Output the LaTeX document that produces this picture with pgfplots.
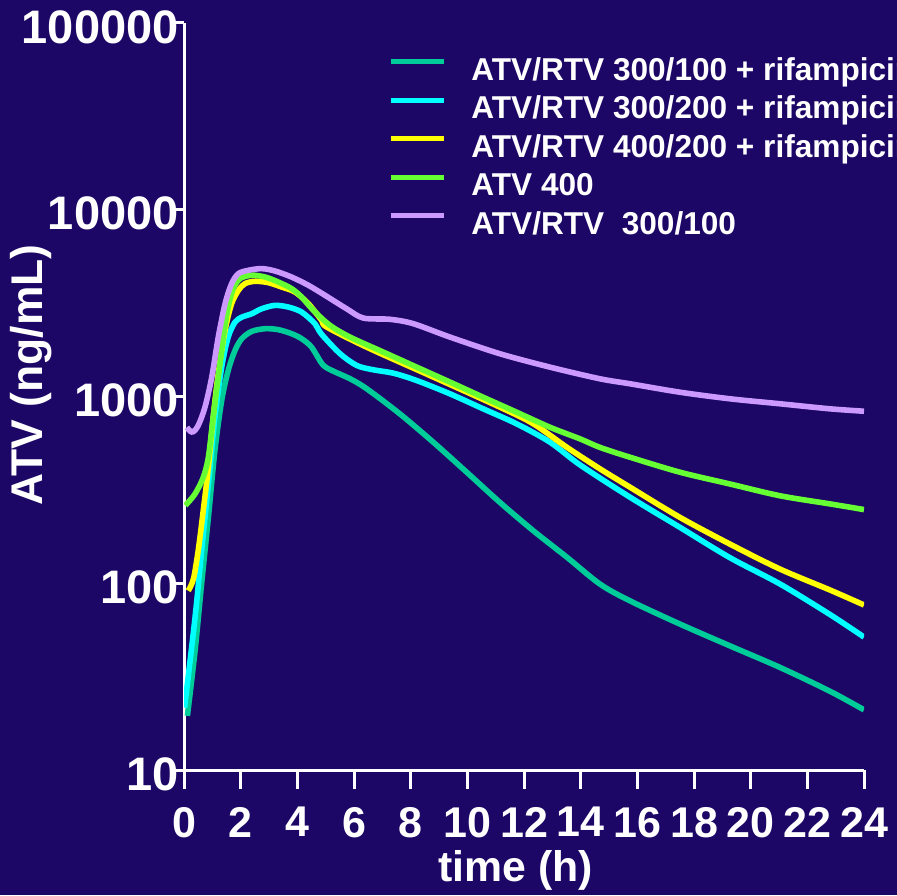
\documentclass[border=0pt]{standalone}
\usepackage{fontspec}
\setmainfont{Liberation Sans}
\usepackage{pgfplots}
\pgfplotsset{compat=1.18}
\definecolor{bg}{RGB}{29,7,102}
\definecolor{cteal}{RGB}{0,204,153}
\definecolor{ccyan}{RGB}{0,255,255}
\definecolor{cyel}{RGB}{255,255,0}
\definecolor{clime}{RGB}{102,255,51}
\definecolor{clav}{RGB}{204,153,255}
\begin{document}
\begin{tikzpicture}
\useasboundingbox (0,0) rectangle (448.5pt,447.5pt);
\clip (0,0) rectangle (448.5pt,447.5pt);
\fill[bg] (0,0) rectangle (448.5pt,447.5pt);
\begin{axis}[
  at={(92pt,62.5pt)}, anchor=south west,
  scale only axis, width=340pt, height=373.5pt,
  xmin=0, xmax=24, ymode=log, ymin=10, ymax=100000,
  axis line style={white, line width=1.5pt},
  tick style={white, line width=1.5pt},
  tick align=outside,
  axis x line*=bottom, axis y line*=left,
  major tick length=5pt,
  xtick={0,2,...,24}, xticklabels={}, xtick style={draw=none},
  ytick={10,100,1000,10000,100000},
  yticklabels={10,100,1000,10000,100000},
  yminorticks=false,
  yticklabel style={font=\fontsize{23.5}{23.5}\selectfont\bfseries, text=white, inner sep=0pt, xshift=2.5pt, yshift=-2pt},
  xlabel={time (h)}, ylabel={ATV (ng/mL)},
  xlabel style={font=\fontsize{21.4}{21.4}\selectfont\bfseries, text=white, at={(axis description cs:0.488,-0.1499)}, anchor=base},
  ylabel style={font=\fontsize{22.2}{22.2}\selectfont\bfseries, text=white, at={(axis description cs:-0.2088,0.529)}, anchor=base},
  every axis plot/.append style={line width=2.8pt, line join=round, smooth, tension=0.5},
  legend image code/.code={\draw[#1, line width=2.5pt] (0pt,3.4pt) -- (26.5pt,3.4pt);},
  legend cell align=left,
  legend style={draw=none, fill=none, text=white, font=\fontsize{15.8}{15.8}\selectfont\bfseries,
    at={(axis description cs:0.300,0.9545)}, anchor=north west, inner sep=0pt,
    row sep=7.9pt, column sep=12.5pt,
    nodes={text height=11.35pt, text depth=0pt, inner sep=0pt}},
]
\addplot[cteal] coordinates {
(0.12,19.5) (0.39,43.5) (0.62,99) (0.86,225) (1.09,513) (1.33,952) (1.56,1378) (1.8,1765)
(2.04,2040) (2.39,2232) (2.86,2307) (3.33,2280) (3.8,2168) (4.15,2040) (4.5,1840) (4.9,1480)
(5.27,1367) (5.86,1245) (6.45,1100) (7.62,807) (8.8,569) (9.98,393) (11.15,271) (12.33,191)
(13.51,138) (14.68,99) (15.74,80.5) (17.51,60.4) (19.27,46.2) (21.04,35.4) (22.8,26.4) (24,21)
};
\addlegendentry{ATV/RTV 300/100 + rifampicin}
\addplot[ccyan] coordinates {
(0.02,21.6) (0.39,65.6) (0.62,149) (0.86,340) (1.09,774) (1.33,1436) (1.56,2080) (1.8,2500)
(2.04,2660) (2.39,2774) (2.74,2950) (3.21,3075) (3.68,3013) (4.15,2833) (4.62,2455) (4.85,2160)
(5.51,1694) (6.1,1466) (6.68,1390) (7.39,1333) (8.21,1218) (9.39,1033) (10.56,859) (11.74,714)
(12.92,569) (13.98,430) (15.74,289) (17.51,199) (19.27,137) (21.04,99) (22.8,68) (24,51.5)
};
\addlegendentry{ATV/RTV 300/200 + rifampicin}
\addplot[cyel] coordinates {
(0.15,91.2) (0.33,105) (0.5,149) (0.68,245) (0.86,418) (1.03,774) (1.21,1325) (1.45,2262)
(1.68,3140) (1.92,3700) (2.15,4020) (2.51,4140) (2.98,4070) (3.45,3855) (3.92,3624) (4.39,3140)
(4.86,2557) (5.04,2354) (6.45,1837) (8.8,1271) (11.15,877) (12.33,714) (13.51,535) (14.68,410)
(15.74,327) (17.51,225) (19.27,162) (21.04,119) (22.8,92) (24,76.5)
};
\addlegendentry{ATV/RTV 400/200 + rifampicin}
\addplot[clime] coordinates {
(0.05,261) (0.39,301) (0.68,369) (0.86,473) (1.03,774) (1.21,1271) (1.39,2080) (1.56,3013)
(1.74,3780) (1.98,4280) (2.39,4460) (2.86,4365) (3.33,4100) (3.8,3780) (4.15,3410) (4.56,2900)
(5.15,2406) (5.86,2080) (7.03,1730) (8.21,1437) (9.39,1194) (10.56,991) (11.74,824) (12.92,684)
(13.98,593) (14.68,534) (15.74,473) (17.51,393) (19.27,340) (21.04,294) (22.8,266) (24,248)
};
\addlegendentry{ATV 400}
\addplot[clav] coordinates {
(0.1,684) (0.29,644) (0.5,699) (0.74,877) (0.98,1271) (1.21,2080) (1.45,3140) (1.68,4020)
(1.92,4550) (2.27,4740) (2.74,4840) (3.21,4700) (3.8,4360) (4.39,3940) (4.98,3480) (5.74,2950)
(6.33,2630) (7.27,2590) (8.09,2455) (9.39,2080) (11.15,1694) (12.92,1436) (14.68,1244) (15.74,1170)
(17.51,1054) (19.27,972) (21.04,914) (22.8,859) (24,834)
};
\addlegendentry{ATV/RTV\ \ 300/100}
\end{axis}
\begin{axis}[
  at={(92pt,62.5pt)}, anchor=south west,
  scale only axis, width=340pt, height=373.5pt,
  xmin=0, xmax=24, ymin=0, ymax=1,
  axis x line*=bottom, axis y line=none,
  axis line style={white, line width=1.5pt},
  tick style={white, line width=1.5pt},
  tick align=outside,
  major tick length=9.5pt,
  xtick={0,2,...,24},
  ytick=\empty,
  /pgf/number format/assume math mode=true,
  xticklabel style={font=\fontsize{21.5}{21.5}\selectfont\bfseries, text=white, inner sep=0pt, yshift=-9pt},
]
\addplot[draw=none] coordinates {(0,0.5) (24,0.5)};
\end{axis}
\end{tikzpicture}
\end{document}
